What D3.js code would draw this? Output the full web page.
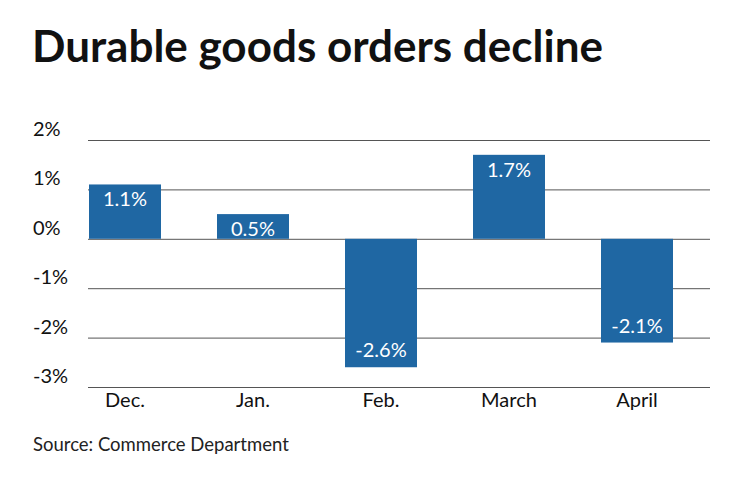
<!DOCTYPE html>
<html><head><meta charset="utf-8">
<script src="https://cdn.jsdelivr.net/npm/d3@7"></script>
<style>body{margin:0;background:#fff;font-family:Lato,"Open Sans",sans-serif;}</style>
</head><body><script>
const categories = ["Dec.", "Jan.", "Feb.", "March", "April"];
const values = [1.1, 0.5, -2.6, 1.7, -2.1];
const tickValues = [2, 1, 0, -1, -2, -3];

const W = 740, H = 482;
const svg = d3.select("body").append("svg").attr("width", W).attr("height", H);

svg.append("text").attr("x", 32).attr("y", 62)
	.attr("font-size", 44).attr("font-weight", 700).attr("fill", "#111")
	.text("Durable goods orders decline");

const y = d3.scaleLinear().domain([-3, 2]).range([387, 140]);
const x = d3.scaleBand().domain(categories).range([61, 701])
	.paddingInner(0.4375).paddingOuter(0.21875);

// gridlines + tick labels
const grid = svg.append("g");
tickValues.forEach(t => {
	grid.append("line").attr("x1", 88).attr("x2", 710)
		.attr("y1", y(t) + 0.5).attr("y2", y(t) + 0.5)
		.attr("stroke", "#555").attr("stroke-width", 1);
	grid.append("text").attr("x", 33).attr("y", y(t) - 4)
		.attr("font-size", 20).attr("fill", "#111")
		.text(t + "%");
});

svg.selectAll("rect.bar").data(values).enter().append("rect")
	.attr("class", "bar")
	.attr("x", (d, i) => x(categories[i]))
	.attr("width", x.bandwidth())
	.attr("y", d => y(Math.max(0, d)))
	.attr("height", d => Math.abs(y(d) - y(0)))
	.attr("fill", "#1f67a3");

svg.selectAll("text.val").data(values).enter().append("text")
	.attr("class", "val")
	.attr("x", (d, i) => x(categories[i]) + x.bandwidth() / 2)
	.attr("y", d => d >= 0 ? y(d) + 22 : y(d) - 10)
	.attr("text-anchor", "middle").attr("font-size", 20).attr("fill", "#fff")
	.text(d => d.toFixed(1) + "%");

svg.selectAll("text.cat").data(categories).enter().append("text")
	.attr("class", "cat")
	.attr("x", d => x(d) + x.bandwidth() / 2)
	.attr("y", 407)
	.attr("text-anchor", "middle").attr("font-size", 20).attr("fill", "#111")
	.text(d => d);

svg.append("text").attr("x", 33).attr("y", 451)
	.attr("font-size", 18.5).attr("fill", "#222")
	.text("Source: Commerce Department");
</script></body></html>
